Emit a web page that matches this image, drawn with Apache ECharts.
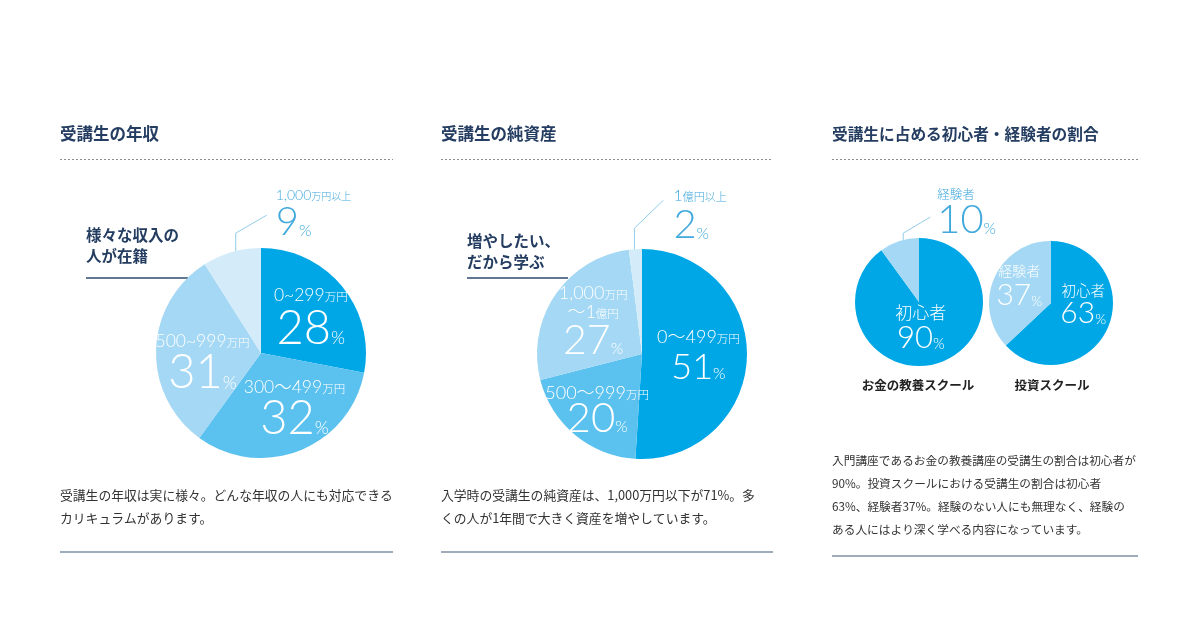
<!DOCTYPE html>
<html><head><meta charset="utf-8">
<script src="https://cdn.jsdelivr.net/npm/echarts@6/dist/echarts.min.js"></script>
<style>html,body{margin:0;padding:0;background:#fff}#c{width:1200px;height:630px}</style>
</head><body><div id="c"></div>
<script>
// ---------- data ----------
const incomeCategories = ['0~299万円', '300〜499万円', '500~999万円', '1,000万円以上'];
const incomeValues = [28, 32, 31, 9];
const assetCategories = ['0〜499万円', '500〜999万円', '1,000万円\n〜1億円', '1億円以上'];
const assetValues = [51, 20, 27, 2];
const learnerCategories = ['初心者', '経験者'];
const moneySchoolValues = [90, 10];
const investSchoolValues = [63, 37];
const panelTitles = ['受講生の年収', '受講生の純資産', '受講生に占める初心者・経験者の割合'];
const calloutTexts = ['様々な収入の\n人が在籍', '増やしたい、\nだから学ぶ'];
const schoolNames = ['お金の教養スクール', '投資スクール'];
const bodyTexts = [
  ['受講生の年収は実に様々。どんな年収の人にも対応できる', 'カリキュラムがあります。'],
  ['入学時の受講生の純資産は、1,000万円以下が71%。多', 'くの人が1年間で大きく資産を増やしています。'],
  ['入門講座であるお金の教養講座の受講生の割合は初心者が', '90%。投資スクールにおける受講生の割合は初心者', '63%、経験者37%。経験のない人にも無理なく、経験の', 'ある人にはより深く学べる内容になっています。']
];

// ---------- styling ----------
const NUM_FONT = 'Lato, "Noto Sans CJK JP", sans-serif';
const JP_FONT = '"Noto Sans CJK JP", sans-serif';
const C_DARK = '#00a7e7', C_MID = '#5bc1ef', C_LIGHT = '#a4d8f4', C_PALE = '#d4ecf9';
const OUT_COLOR = '#41a9dc', LINE_COLOR = '#93cdea', NAVY = '#243d61';

const pieDefs = [
  { cats: incomeCategories, vals: incomeValues, center: [261, 353], r: 105,
    colors: [C_DARK, C_MID, C_LIGHT, C_PALE],
    lab: [
      { s: [17.5, 22], u: [11.5, 4], n: [47, 44], p: [18, 20], dx: 7, dy: 0 },
      { s: [17.5, 22], u: [11.5, 4], n: [47, 40], p: [18, 20], dx: 13, dy: 3 },
      { s: [17.5, 22], u: [11.5, 4], n: [47, 42], p: [18, 20], dx: -3, dy: 11 },
      { out: true, s: [14, 18], u: [10, 3], n: [40, 36], p: [16, 17], line: [[4, 8], [4, -19], [35, -37]], at: [44, -66] }
    ] },
  { cats: assetCategories, vals: assetValues, center: [642, 354], r: 105,
    colors: [C_DARK, C_MID, C_LIGHT, C_PALE],
    lab: [
      { s: [18, 19], u: [11.5, 4], n: [36, 41], p: [16, 14], dx: 1, dy: 2 },
      { s: [18, 19], u: [11.5, 4], n: [42, 31], p: [16, 18], dx: -9.5, dy: 12 },
      { s: [18, 19], u: [11.5, 4], n: [41, 37], p: [16, 17.5], dx: -3, dy: -1.5 },
      { out: true, s: [16, 20], u: [11, 3], n: [40, 38], p: [16, 17], line: [[-1, 1], [-1, -21], [28, -49]], at: [38, -63] }
    ] },
  { cats: learnerCategories, vals: moneySchoolValues, center: [919, 302], r: 64,
    colors: [C_DARK, C_LIGHT],
    lab: [
      { s: [17, 20], u: [11, 3], n: [31, 29], p: [15, 11], dx: -9, dy: -7 },
      { out: true, s: [12.5, 16], u: [10, 2], n: [40, 34], p: [16, 17], line: [[4, 16], [4, -8], [31, -24]], at: [38, -54] }
    ] },
  { cats: learnerCategories, vals: investSchoolValues, center: [1051, 303], r: 62,
    colors: [C_DARK, C_LIGHT],
    lab: [
      { s: [14.5, 20], u: [11, 3], n: [30, 24], p: [14, 11], dx: 1, dy: -13 },
      { s: [14, 20], u: [11, 3], n: [30, 28], p: [14, 11], dx: -0.5, dy: -4 }
    ] }
];

function tokenLine(line, i) {
  const m = line.match(/^(.*?)([万億]円.*)?$/);
  let out = '';
  if (m[1]) out += '{s' + i + '|' + m[1] + '}';
  if (m[2]) out += '{u' + i + '|' + m[2] + '}';
  return out;
}

function buildSeries(def) {
  const rich = {};
  def.lab.forEach((L, i) => {
    rich['s' + i] = { fontSize: L.s[0], lineHeight: L.s[1], fontFamily: NUM_FONT, fontWeight: 300 };
    rich['u' + i] = { fontSize: L.u[0], lineHeight: L.u[0], fontFamily: NUM_FONT, fontWeight: 300, padding: [L.u[1], 0, 0, 0] };
    rich['n' + i] = { fontSize: L.n[0], lineHeight: L.n[1], fontFamily: NUM_FONT, fontWeight: 300 };
    rich['p' + i] = { fontSize: L.p[0], lineHeight: L.p[0], fontFamily: NUM_FONT, fontWeight: 300, padding: [L.p[1], 0, 0, 0] };
  });
  const data = def.cats.map((name, i) => {
    const L = def.lab[i];
    const item = { name: name, value: def.vals[i], itemStyle: { color: def.colors[i] } };
    if (L.out) {
      item.label = { position: 'outside', color: OUT_COLOR };
      item.labelLine = { show: true, length: 20, length2: 20, lineStyle: { color: LINE_COLOR, width: 1 } };
    }
    return item;
  });
  return {
    type: 'pie',
    center: def.center,
    radius: def.r,
    startAngle: 90,
    clockwise: true,
    avoidLabelOverlap: false,
    silent: true,
    emphasis: { disabled: true },
    itemStyle: { borderWidth: 0 },
    label: {
      show: true,
      position: 'inside',
      color: '#ffffff',
      fontFamily: NUM_FONT,
      fontWeight: 300,
      formatter: function (p) {
        const i = p.dataIndex;
        const lines = p.name.split('\n').map(l => tokenLine(l, i));
        return lines.join('\n') + '\n{n' + i + '|' + p.value + '}{p' + i + '|%}';
      },
      rich: rich
    },
    labelLine: { show: false },
    labelLayout: function (params) {
      const L = def.lab[params.dataIndex];
      if (L.out) {
        const p0 = params.labelLinePoints ? params.labelLinePoints[0] : null;
        if (!p0) return {};
        return {
          x: p0[0] + L.at[0],
          y: p0[1] + L.at[1],
          align: 'left',
          verticalAlign: 'top',
          labelLinePoints: L.line.map(o => [p0[0] + o[0], p0[1] + o[1]])
        };
      }
      return { dx: L.dx, dy: L.dy };
    },
    data: data
  };
}

// ---------- decorations / texts ----------
const panelX = [60, 441, 832];
const panelRight = [393, 773, 1138];
const g = [];
panelTitles.forEach((t, i) => {
  g.push({ type: 'text', x: panelX[i], y: 134, style: { text: t, fontSize: i === 2 ? 15.7 : 16.5, fontWeight: 'bold', fontFamily: JP_FONT, fill: NAVY, align: 'left', verticalAlign: 'middle' } });
  g.push({ type: 'line', shape: { x1: panelX[i], y1: 159.5, x2: panelRight[i], y2: 159.5 }, style: { stroke: '#8d8d8d', lineWidth: 1, lineDash: [2, 2] } });
});
const calloutPos = [[86, 224.5, 188], [467, 231, 568]];
calloutTexts.forEach((t, i) => {
  const c = calloutPos[i];
  g.push({ type: 'text', x: c[0], y: c[1], style: { text: t, fontSize: 15.5, fontWeight: 'bold', fontFamily: JP_FONT, fill: NAVY, lineHeight: 21, align: 'left', verticalAlign: 'top' } });
  g.push({ type: 'line', shape: { x1: c[0], y1: 278, x2: c[2], y2: 278 }, style: { stroke: '#2c4a6e', lineWidth: 1.5 } });
});
const schoolX = [918, 1052];
schoolNames.forEach((t, i) => {
  g.push({ type: 'text', x: schoolX[i], y: 385, style: { text: t, fontSize: 12.5, fontWeight: 'bold', fontFamily: JP_FONT, fill: '#222', align: 'center', verticalAlign: 'middle' } });
});
const bodyY = [[495, 518], [495, 518], [461, 484, 507, 530]];
const bodySize = [12.8, 12.8, 11.7];
bodyTexts.forEach((lines, i) => {
  lines.forEach((l, j) => {
    g.push({ type: 'text', x: panelX[i], y: bodyY[i][j], style: { text: l, fontSize: bodySize[i], fontFamily: JP_FONT, fill: '#333333', align: 'left', verticalAlign: 'middle' } });
  });
});
const ruleY = [552, 552, 556];
ruleY.forEach((y, i) => {
  g.push({ type: 'line', shape: { x1: panelX[i], y1: y, x2: panelRight[i], y2: y }, style: { stroke: '#7f92a4', lineWidth: 1.5 } });
});

const chart = echarts.init(document.getElementById('c'), null, { renderer: 'canvas' });
chart.setOption({
  animation: false,
  backgroundColor: '#ffffff',
  graphic: { elements: g },
  series: pieDefs.map(buildSeries)
});
</script>
</body></html>
